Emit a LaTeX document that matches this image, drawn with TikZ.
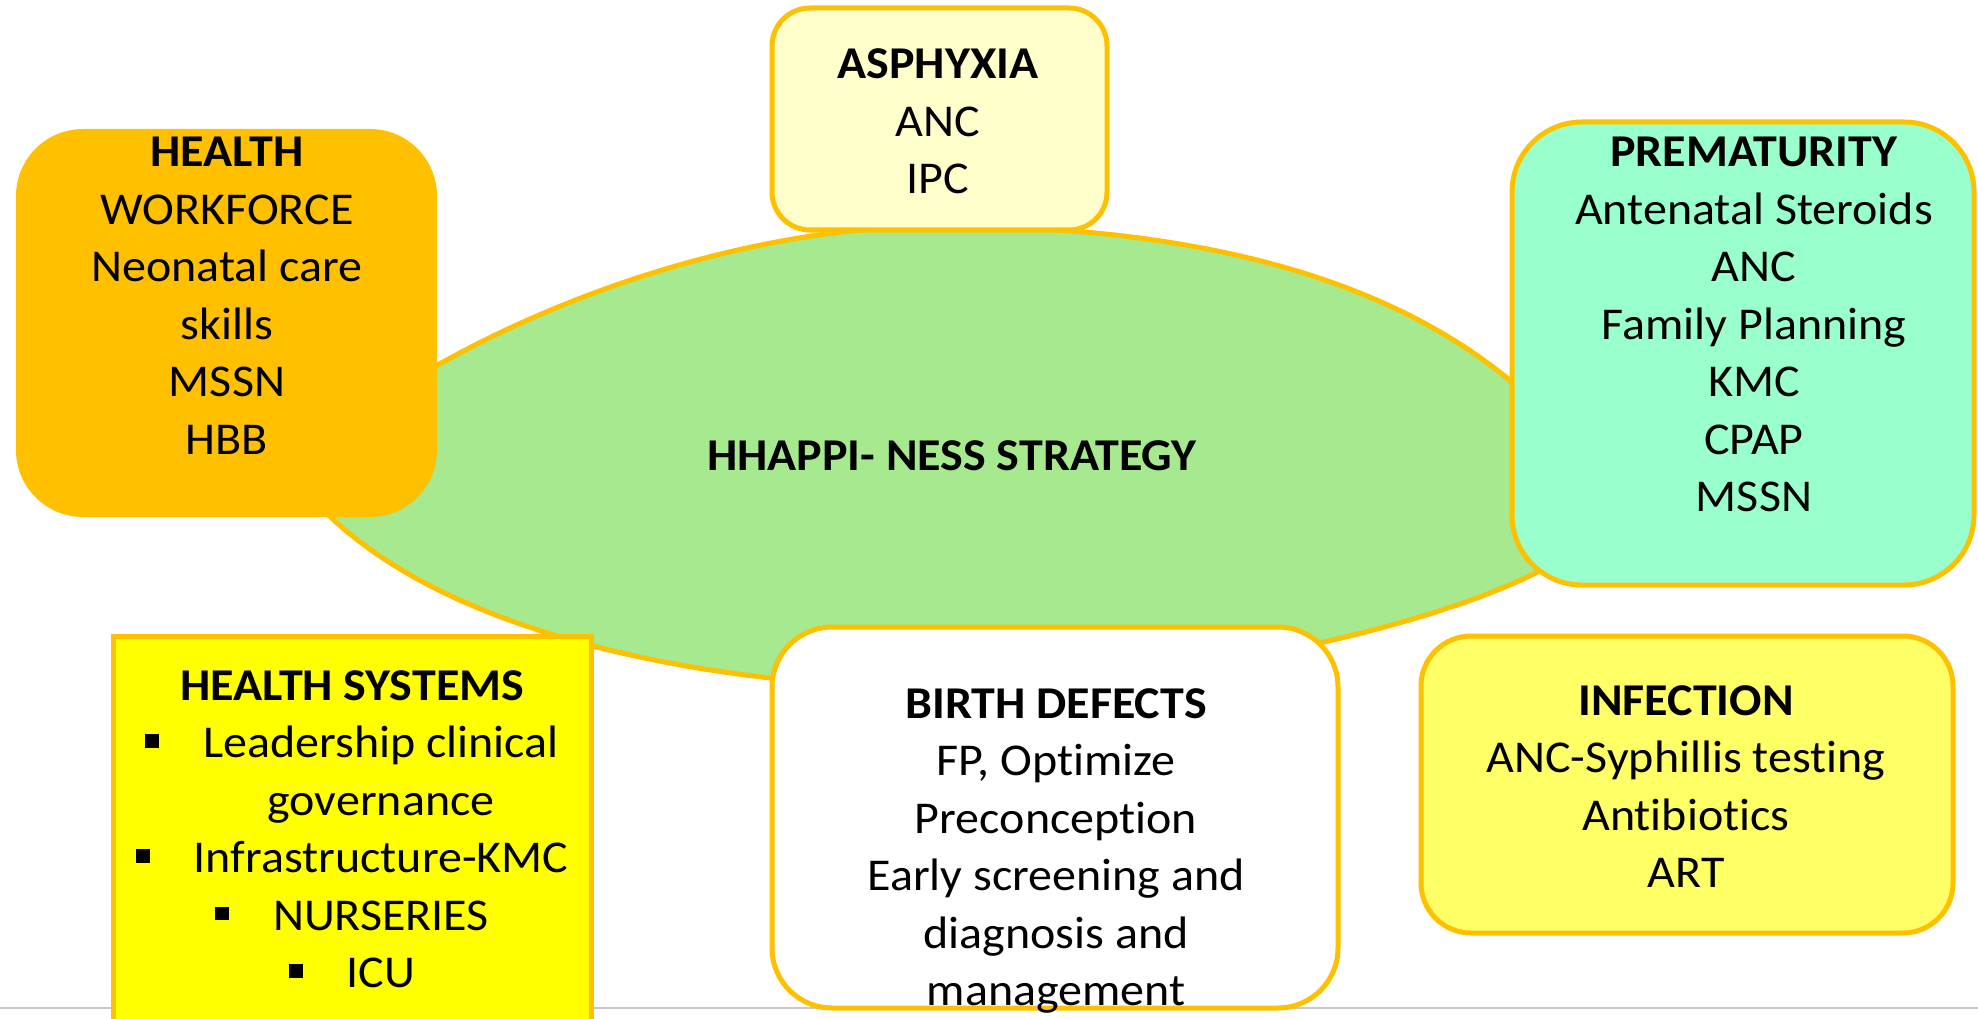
\documentclass[tikz,border=0pt]{standalone}
\usepackage{fontspec}
\setmainfont{Carlito}[FakeStretch=1.055, Ligatures={NoCommon}]

\definecolor{gold}{HTML}{FFC000}
\definecolor{leaf}{RGB}{166,233,143}
\definecolor{asphfill}{HTML}{FFFFCC}
\definecolor{premfill}{HTML}{99FFCC}
\definecolor{infecfill}{HTML}{FFFF66}
\definecolor{sysfill}{HTML}{FFFF00}
\definecolor{rulegray}{HTML}{C8C8C8}

% stacked, centred lines whose baseline is the first line's baseline
\newcommand{\stack}[1]{\begin{tabular}[t]{@{}c@{}}#1\end{tabular}}
% square list bullet followed by its gap
\newcommand{\sqbul}{\rule[10pt]{14pt}{13.5pt}\hspace{44pt}}

\tikzset{
  panel/.style={draw=gold, line width=5pt},
  txt/.style={anchor=base, inner sep=0pt, font=\fontsize{45.5}{57.5}\selectfont},
}

\begin{document}
\begin{tikzpicture}[x=1pt, y=-1pt]
\useasboundingbox (0,0) rectangle (1978,1019);
\clip (0,0) rectangle (1978,1019);

% thin rule near the bottom
\draw[rulegray, line width=2pt] (0,1008) -- (1978,1008);

% central strategy oval (its pointed ends sit under the side panels)
\filldraw[draw=gold, fill=leaf, line width=5pt]
  (290,470) .. controls (430,340) and (700,226) .. (940,226)
            .. controls (1180,226) and (1460,270) .. (1600,480)
  -- (1600,520) .. controls (1570,600) and (1200,688) .. (950,688)
            .. controls (700,688) and (400,630) .. (290,470) -- cycle;

% surrounding panels
\fill[gold, rounded corners=67pt] (16,129) rectangle (437,517);
\draw[panel, fill=asphfill, rounded corners=38pt] (772,8) rectangle (1107,230);
\draw[panel, fill=premfill, rounded corners=70pt] (1512,122) rectangle (1974,585);
\draw[panel, fill=white, rounded corners=60pt] (772,627) rectangle (1338,1008);
\draw[panel, fill=infecfill, rounded corners=50pt] (1421,636) rectangle (1953,933);
\draw[panel, fill=sysfill] (113,636) rectangle (591,1045);

% texts
\node[txt] (core) at (952,470) {\textbf{HHAPPI- NESS STRATEGY}};

\node[txt] (workforce) at (227,167)
  {\stack{\textbf{HEALTH}\\WORKFORCE\\Neonatal care\\skills\\MSSN\\HBB}};

\node[txt] (asphyxia) at (938,79)
  {\stack{\textbf{ASPHYXIA}\\ANC\\IPC}};

\node[txt] (prematurity) at (1754,167)
  {\stack{\textbf{PREMATURITY}\\Antenatal Steroids\\ANC\\Family Planning\\KMC\\CPAP\\MSSN}};

\node[txt] (defects) at (1056,718)
  {\stack{\textbf{BIRTH DEFECTS}\\FP, Optimize\\Preconception\\Early screening and\\diagnosis and\\management}};

\node[txt] (infection) at (1686,715)
  {\stack{\textbf{INFECTION}\\ANC-Syphillis testing\\Antibiotics\\ART}};

\node[txt] (systems) at (352,700)
  {\stack{\textbf{HEALTH SYSTEMS}\\
          \sqbul Leadership clinical\\
          \hphantom{\sqbul}governance\\
          \sqbul Infrastructure-KMC\\
          \sqbul NURSERIES\\
          \sqbul ICU}};
\end{tikzpicture}
\end{document}
